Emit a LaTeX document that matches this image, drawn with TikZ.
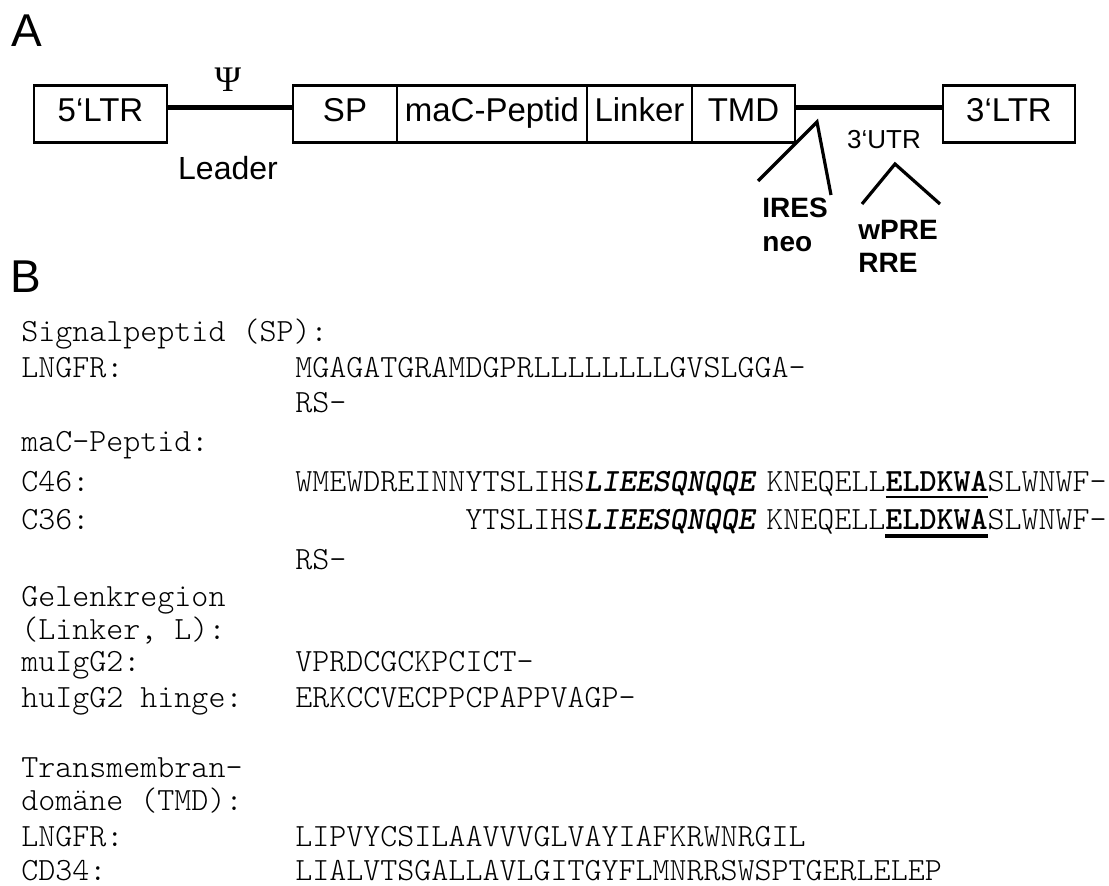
\documentclass[tikz,border=0pt]{standalone}
\usepackage{fontspec}
\setmainfont{Liberation Sans}
\newfontfamily\psifont{Liberation Serif}
\usetikzlibrary{positioning}
\tikzset{
  cbox/.style={draw,line width=1.2pt,inner sep=0pt,outer sep=0pt,minimum height=28.5pt,
    font=\fontsize{16.5}{19}\selectfont,text height=0.78em,text depth=0pt},
  dnaline/.style={line width=2.5pt},
  insline/.style={line width=1.6pt},
  plab/.style={font=\fontsize{23}{27}\selectfont,anchor=base west,inner sep=0pt},
  tlab/.style={font=\fontsize{16}{19}\selectfont,anchor=base,inner sep=0pt},
  ulab/.style={font=\fontsize{13}{15}\selectfont,anchor=base,inner sep=0pt},
  ilab/.style={font=\fontsize{14}{17}\selectfont\bfseries,anchor=base west,inner sep=0pt},
  sq/.style={font=\fontsize{16.2}{19}\ttfamily\fontseries{l}\selectfont,anchor=base west,inner sep=0pt},
}
\newcommand{\motif}[1]{\textbf{\textit{#1}}}
\newcommand{\ulbold}[2]{% #1 = rule thickness, #2 = bold residues
  \setbox0=\hbox{\bfseries #2}\rlap{\rule[\dimexpr-2pt-#1\relax]{\wd0}{#1}}\box0}

\begin{document}
\begin{tikzpicture}[x=0.5pt,y=-0.5pt]
\useasboundingbox (0,0) rectangle (1109,886);
% panel letters
\node[plab] (panA) at (11,47) {A};
\node[plab] (panB) at (10,293) {B};
% provirus
\node[cbox,minimum width=66.5pt] (ltr5) at (100.5,114) {5‘LTR};
\node[cbox,minimum width=52pt] (sp) at (345,114) {SP};
\node[cbox,minimum width=95pt,right=0pt of sp] (mac) {maC-Peptid};
\node[cbox,minimum width=52.5pt,right=0pt of mac] (lnk) {Linker};
\node[cbox,minimum width=51.5pt,right=0pt of lnk] (tmd) {TMD};
\node[cbox,minimum width=66pt] (ltr3) at (1009,114) {3‘LTR};
\draw[dnaline] ([yshift=3pt]ltr5.east) -- ([yshift=3pt]sp.west);
\draw[dnaline] ([yshift=3pt]tmd.east) -- ([yshift=3pt]ltr3.west);
\node[inner sep=0pt,font=\fontsize{18}{20}\psifont] (psi) at (228,80) {Ψ};
\node[tlab] (lead) at (228,180) {Leader};
\node[ulab] (utr) at (884,149) {3‘UTR};
% inserts in the 3'UTR
\coordinate (iresT) at (817,122);
\coordinate (iresL) at (758,181);
\coordinate (iresR) at (831,195);
\draw[insline] (iresL) -- (iresT) -- (iresR);
\coordinate (wpreT) at (895,164);
\coordinate (wpreL) at (862,204);
\coordinate (wpreR) at (940,204);
\draw[insline] (wpreL) -- (wpreT) -- (wpreR);
\node[ilab] (ires) at (762,218) {IRES};
\node[ilab] (neo) at (762,252) {neo};
\node[ilab] (wpre) at (858,240) {wPRE};
\node[ilab] (rre) at (858,273) {RRE};
% sequences
\foreach \y/\t in {342/{Signalpeptid (SP):},378/LNGFR:,452/maC-Peptid:,492/C46:,530/C36:,
    607/Gelenkregion,640/{(Linker, L):},672/muIgG2:,708/huIgG2 hinge:,
    778/Transmembran-,811/{domäne (TMD):},847/LNGFR:,881/CD34:}
  \node[sq] (lab\y) at (21,\y) {\t};
\node[sq] (spseq) at (295,378) {MGAGATGRAMDGPRLLLLLLLLGVSLGGA-};
\node[sq] (sprs) at (295,413) {RS-};
\node[sq] (c46) at (295,492) {WMEWDREINNYTSLIHS\motif{LIEESQNQQE}\hspace{5pt}KNEQELL\ulbold{0.9pt}{ELDKWA}SLWNWF-};
\node[sq] (c36) at (465,530) {YTSLIHS\motif{LIEESQNQQE}\hspace{5pt}KNEQELL\ulbold{1.8pt}{ELDKWA}SLWNWF-};
\node[sq] (macrs) at (295,570) {RS-};
\node[sq] (mu) at (295,672) {VPRDCGCKPCICT-};
\node[sq] (hu) at (295,708) {ERKCCVECPPCPAPPVAGP-};
\node[sq] (tmngf) at (295,847) {LIPVYCSILAAVVVGLVAYIAFKRWNRGIL};
\node[sq] (tmcd) at (295,881) {LIALVTSGALLAVLGITGYFLMNRRSWSPTGERLELEP};
\end{tikzpicture}
\end{document}
